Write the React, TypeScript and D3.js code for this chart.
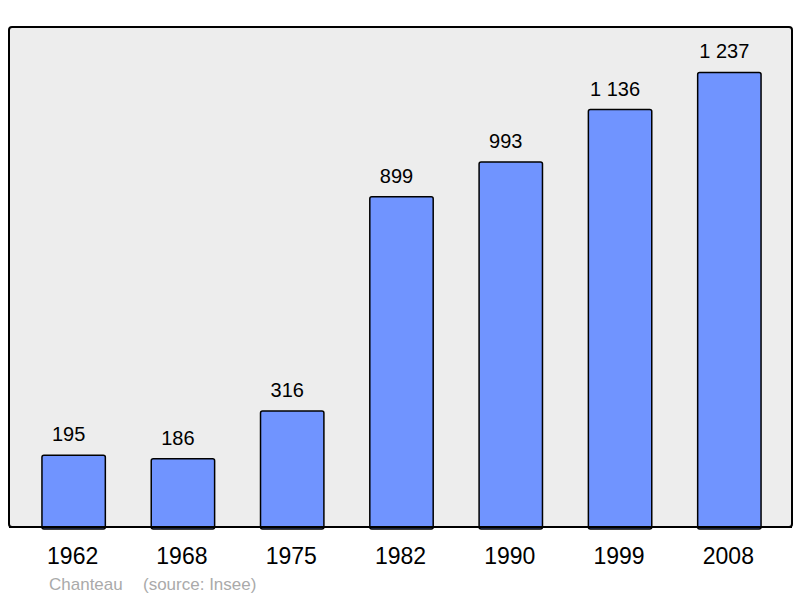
import React from "react";
import * as d3 from "d3";

const years = ["1962", "1968", "1975", "1982", "1990", "1999", "2008"];
const population = [195, 186, 316, 899, 993, 1136, 1237];
const valueLabels = ["195", "186", "316", "899", "993", "1 136", "1 237"];
const commune = "Chanteau";
const source = "(source: Insee)";

const W = 800;
const H = 598;
const frame = { left: 9, top: 27, right: 792, bottom: 527 };

export default function App() {
  const x = d3
    .scaleBand<string>()
    .domain(years)
    .range([19, 784])
    .paddingInner(0.42)
    .paddingOuter(0.21);
  const y = d3
    .scaleLinear()
    .domain([0, d3.max(population)! * 1.1])
    .range([frame.bottom, frame.top]);

  const font = "'Liberation Sans', Arial, sans-serif";

  return (
    <svg
      width={W}
      height={H}
      style={{ position: "absolute", left: 0, top: 0, display: "block" }}
    >
      <rect x={0} y={0} width={W} height={H} fill="#ffffff" />
      <rect
        x={frame.left}
        y={frame.top}
        width={frame.right - frame.left}
        height={frame.bottom - frame.top}
        rx={3}
        fill="#ededed"
        stroke="#000"
        strokeWidth={2}
      />
      {years.map((yr, i) => {
        const bx = x(yr)!;
        const top = y(population[i]);
        const bw = x.bandwidth();
        return (
          <g key={yr}>
            <rect
              x={bx}
              y={top}
              width={bw}
              height={frame.bottom - top + 2}
              rx={2}
              fill="#7094ff"
              stroke="#000"
              strokeWidth={1.5}
            />
            <text
              x={bx + bw / 2 - 5}
              y={top - 14}
              textAnchor="middle"
              fontFamily={font}
              fontSize={20}
              fill="#000"
            >
              {valueLabels[i]}
            </text>
            <text
              x={bx + bw / 2 - 1}
              y={564}
              textAnchor="middle"
              fontFamily={font}
              fontSize={23}
              fill="#000"
            >
              {yr}
            </text>
          </g>
        );
      })}
      <line
        x1={frame.left}
        x2={frame.right}
        y1={frame.bottom}
        y2={frame.bottom}
        stroke="#000"
        strokeWidth={2}
      />
      <text x={49} y={590} fontFamily={font} fontSize={17} fill="#aaaaaa">
        {commune}
      </text>
      <text x={143} y={590} fontFamily={font} fontSize={17} fill="#aaaaaa">
        {source}
      </text>
    </svg>
  );
}
